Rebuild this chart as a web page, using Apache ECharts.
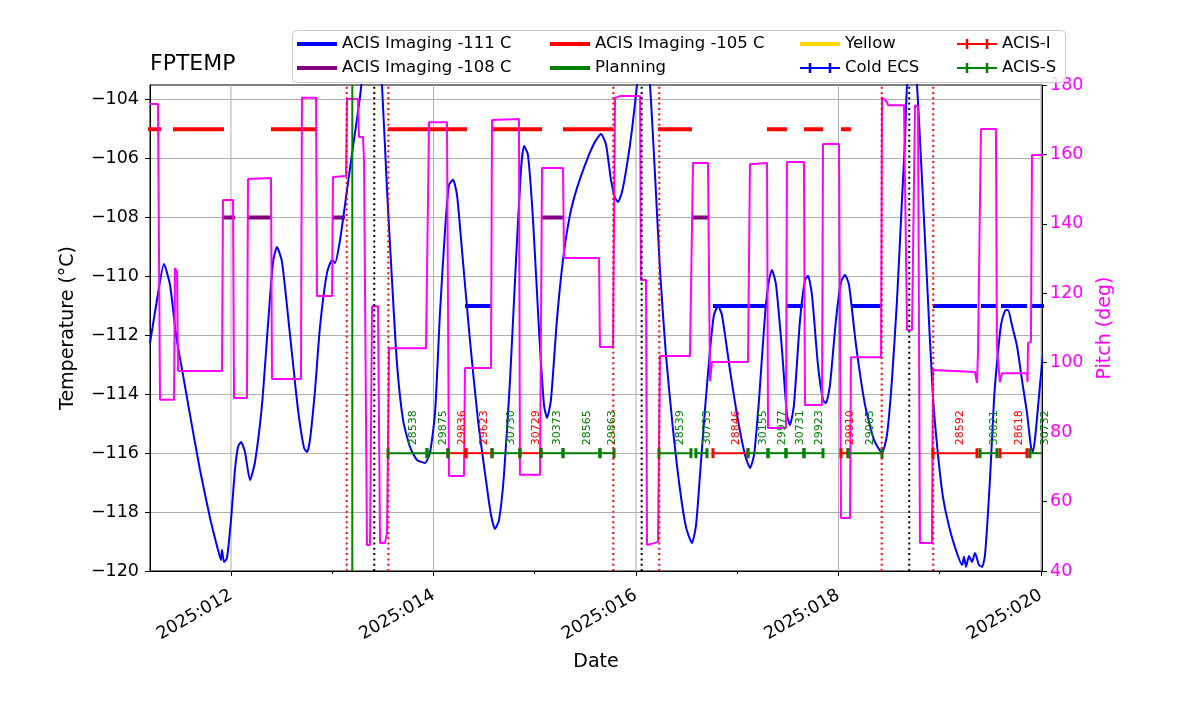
<!DOCTYPE html>
<html><head><meta charset="utf-8">
<script src="https://cdn.jsdelivr.net/npm/echarts@6/dist/echarts.min.js"></script>
<style>html,body{margin:0;padding:0;background:#fff}#c{width:1200px;height:714px}</style>
</head><body><div id="c"></div>
<script>
// ---- axis ticks ----
const xTickDays = [12, 14, 16, 18, 20];
const xMinorDays = [13, 15, 17, 19];
const tempTicks = [-120, -118, -116, -114, -112, -110, -108, -106, -104];

// ---- FPTEMP (day-of-year, deg C) ----
const fptemp = [[11.200,-112.26],[11.269,-110.80],[11.338,-109.58],[11.398,-110.29],[11.457,-111.99],[11.526,-113.34],[11.595,-114.70],[11.694,-116.57],[11.793,-118.20],[11.872,-119.29],[11.901,-119.63],[11.911,-119.29],[11.931,-119.69],[11.960,-119.56],[12.000,-118.27],[12.039,-116.57],[12.069,-115.79],[12.099,-115.62],[12.138,-115.96],[12.188,-116.91],[12.237,-116.30],[12.306,-114.36],[12.365,-111.65],[12.415,-109.51],[12.454,-109.00],[12.504,-109.51],[12.583,-111.99],[12.662,-114.53],[12.721,-115.82],[12.751,-115.96],[12.780,-115.55],[12.830,-113.85],[12.879,-111.71],[12.948,-109.88],[12.998,-109.44],[13.027,-109.54],[13.077,-108.76],[13.146,-107.06],[13.205,-105.60],[13.274,-103.90],[13.334,-102.0],[13.392,-101.0],[13.452,-102.0],[13.491,-103.5],[13.541,-107.06],[13.590,-110.12],[13.639,-112.94],[13.699,-114.87],[13.768,-115.79],[13.837,-116.23],[13.916,-116.33],[13.965,-115.99],[14.015,-114.64],[14.064,-111.24],[14.114,-108.42],[14.153,-106.89],[14.193,-106.72],[14.232,-107.23],[14.281,-109.10],[14.360,-112.16],[14.439,-114.87],[14.518,-116.91],[14.568,-118.10],[14.607,-118.57],[14.647,-118.27],[14.696,-116.74],[14.756,-113.51],[14.815,-109.44],[14.864,-106.38],[14.894,-105.57],[14.933,-105.87],[14.983,-108.08],[15.042,-111.82],[15.091,-114.36],[15.121,-114.80],[15.160,-114.19],[15.219,-111.48],[15.279,-109.44],[15.348,-107.91],[15.417,-107.00],[15.516,-106.04],[15.595,-105.43],[15.654,-105.16],[15.704,-105.53],[15.753,-106.72],[15.793,-107.33],[15.822,-107.47],[15.862,-107.13],[15.911,-106.21],[15.960,-105.03],[16.010,-103.50],[16.049,-102.0],[16.089,-102.0],[16.138,-103.5],[16.188,-106.55],[16.237,-109.78],[16.296,-112.67],[16.366,-115.21],[16.435,-117.25],[16.494,-118.51],[16.553,-119.05],[16.593,-118.44],[16.632,-116.74],[16.681,-114.53],[16.731,-112.50],[16.770,-111.31],[16.810,-111.00],[16.849,-111.31],[16.928,-113.17],[17.007,-114.87],[17.077,-116.06],[17.126,-116.50],[17.166,-116.06],[17.215,-114.19],[17.274,-111.31],[17.314,-110.12],[17.343,-109.78],[17.383,-110.29],[17.442,-112.50],[17.491,-114.70],[17.521,-115.04],[17.560,-114.36],[17.620,-111.48],[17.669,-110.12],[17.699,-109.98],[17.738,-110.63],[17.797,-113.00],[17.847,-114.19],[17.876,-114.30],[17.916,-113.68],[17.975,-111.48],[18.025,-110.19],[18.064,-109.95],[18.104,-110.29],[18.173,-112.33],[18.262,-114.36],[18.351,-115.55],[18.430,-115.99],[18.479,-115.38],[18.528,-113.51],[18.578,-110.80],[18.627,-107.40],[18.657,-105.37],[18.677,-103.5],[18.726,-102.0],[18.775,-103.5],[18.825,-106.72],[18.874,-110.12],[18.933,-114.09],[18.983,-116.06],[19.032,-117.49],[19.101,-118.61],[19.170,-119.39],[19.220,-119.80],[19.240,-119.52],[19.259,-119.86],[19.289,-119.49],[19.319,-119.69],[19.348,-119.39],[19.388,-119.80],[19.418,-119.86],[19.447,-119.46],[19.496,-116.91],[19.536,-114.19],[19.565,-112.94],[19.605,-111.65],[19.644,-111.17],[19.674,-111.14],[19.713,-111.65],[19.763,-112.36],[19.812,-113.51],[19.862,-114.64],[19.901,-115.79],[19.921,-115.96],[19.950,-115.21],[19.990,-113.68],[20.019,-112.67]];

// ---- Pitch (day-of-year, deg) ----
const pitch = [[11.200,174.5],[11.279,174.5],[11.299,89.3],[11.437,89.3],[11.447,127.3],[11.467,126.1],[11.477,97.6],[11.911,97.6],[11.921,146.9],[12.020,146.9],[12.030,89.8],[12.158,89.8],[12.168,152.9],[12.395,153.2],[12.405,95.3],[12.691,95.3],[12.701,176.3],[12.840,176.3],[12.849,119.2],[12.998,119.2],[13.007,153.5],[13.136,153.8],[13.146,176.0],[13.254,176.0],[13.264,165.0],[13.304,165.0],[13.314,157.8],[13.333,157.5],[13.343,47.5],[13.373,47.5],[13.393,116.3],[13.452,116.3],[13.472,48.1],[13.521,48.1],[13.541,50.9],[13.551,51.2],[13.561,104.2],[13.926,104.2],[13.956,169.3],[14.133,169.3],[14.153,67.4],[14.301,67.4],[14.311,98.5],[14.568,98.5],[14.578,169.9],[14.844,170.2],[14.854,67.7],[15.052,67.7],[15.072,156.1],[15.279,156.1],[15.289,130.2],[15.635,130.2],[15.644,104.5],[15.773,104.5],[15.793,176.3],[15.842,176.8],[16.040,176.8],[16.049,123.8],[16.099,123.8],[16.109,47.5],[16.188,48.1],[16.217,48.4],[16.237,101.9],[16.533,101.9],[16.563,157.5],[16.711,157.5],[16.731,94.7],[16.751,100.2],[17.106,100.2],[17.126,157.2],[17.294,157.5],[17.304,81.2],[17.481,81.2],[17.491,157.8],[17.659,157.8],[17.669,87.8],[17.837,87.8],[17.847,163.0],[18.005,163.0],[18.025,55.3],[18.114,55.3],[18.123,101.6],[18.420,101.6],[18.430,176.5],[18.479,175.1],[18.489,174.2],[18.647,174.2],[18.677,109.4],[18.726,109.4],[18.756,174.2],[18.785,173.7],[18.805,48.1],[18.923,48.1],[18.933,97.9],[19.348,97.3],[19.368,94.2],[19.378,103.1],[19.407,167.3],[19.555,167.3],[19.565,104.2],[19.595,94.4],[19.615,97.0],[19.862,97.0],[19.867,94.4],[19.872,105.7],[19.901,106.0],[19.911,159.8],[20.030,159.8]];

// ---- ACIS imaging temperature limit spans [start, end] ----
const imaging111Level = -111, imaging108Level = -108, imaging105Level = -105;
const imaging111Spans = [[14.311,14.578],[16.760,17.274],[17.491,17.649],[18.133,18.420],[18.933,19.368],[19.407,19.565],[19.605,19.862],[19.901,20.05]];
const imaging108Spans = [[11.921,12.040],[12.168,12.405],[12.998,13.126],[15.062,15.289],[16.553,16.721]];
const imaging105Spans = [[11.15,11.309],[11.427,11.931],[12.395,12.849],[13.551,14.331],[14.578,15.072],[15.279,15.773],[16.217,16.553],[17.294,17.491],[17.659,17.847],[18.025,18.123]];

// ---- vertical event lines ----
const planningTimes = [13.198];
const redDotTimes = [13.143, 13.554, 15.776, 16.230, 18.427, 18.936];
const blackDotTimes = [13.415, 16.056, 18.699];

// ---- observations [start, end, obsid] ----
const obsidLevel = -116;
const acisIObs = [[14.143,14.321,29836],[14.321,14.578,29623],[14.854,15.062,30729],[16.760,17.106,28846],[18.025,18.094,29910],[18.933,19.368,28592],[19.595,19.862,28618]];
const acisSObs = [[13.551,13.936,28538],[13.936,14.143,29875],[14.578,14.854,30730],[15.062,15.279,30373],[15.279,15.644,28565],[15.644,15.783,29863],[16.227,16.543,28539],[16.592,16.701,30733],[17.106,17.304,30155],[17.304,17.481,29977],[17.481,17.659,30731],[17.659,17.847,29923],[18.094,18.430,29065],[19.398,19.565,30021],[19.891,20.089,30732]];

const X_MIN = 11.2, X_MAX = 20.01, T_MIN = -120, T_MAX = -103.5;
const FONT = 'DejaVu Sans';

function spansData(spans, level) {
  const d = [];
  spans.forEach(([s, e]) => { d.push([s, level], [e, level], [e, '-']); });
  return d;
}
function vlineData(times) {
  const d = [];
  times.forEach(t => { d.push([t, T_MIN], [t, T_MAX], [t, '-']); });
  return d;
}
function obsData(list) { return list.map(o => [o[0], o[1], o[2], obsidLevel]); }

function renderObs(params, api) {
  const s = api.value(0), e = api.value(1), id = api.value(2), lv = api.value(3);
  const p1 = api.coord([s, lv]), p2 = api.coord([e, lv]);
  const cs = params.coordSys;
  const xmin = cs.x, xmax = cs.x + cs.width;
  const color = api.visual('color');
  const ch = [];
  const x1 = Math.max(p1[0], xmin), x2 = Math.min(p2[0], xmax);
  if (x2 > x1) ch.push({type: 'line', shape: {x1: x1, y1: p1[1], x2: x2, y2: p1[1]}, style: {stroke: color, lineWidth: 2}});
  [p1[0], p2[0]].forEach(x => {
    if (x >= xmin - 0.5 && x <= xmax + 0.5) ch.push({type: 'rect', shape: {x: x - 1.5, y: p1[1] - 5, width: 3, height: 10}, style: {fill: color}});
  });
  const cx = (p1[0] + p2[0]) / 2;
  ch.push({type: 'text', x: cx, y: p1[1] - 8, rotation: Math.PI / 2,
    style: {text: String(id), fill: color, fontSize: 11, fontFamily: FONT, align: 'left', verticalAlign: 'top'}});
  return {type: 'group', children: ch};
}

const ebIcon = 'path://M0,4h40v2h-40zM8.75,0h2.5v10h-2.5zM28.75,0h2.5v10h-2.5z';
const legendBase = {orient: 'vertical', top: 34, itemWidth: 40, itemHeight: 4, itemGap: 4, itemTextGap: 9,
  padding: 0, selectedMode: false, icon: 'rect', z: 20,
  textStyle: {fontSize: 16.5, lineHeight: 20, color: '#000', fontFamily: FONT}};

const chart = echarts.init(document.getElementById('c'), null, {renderer: 'canvas'});
chart.setOption({
  animation: false,
  backgroundColor: '#fff',
  textStyle: {fontFamily: FONT},
  title: {text: 'FPTEMP', left: 150, top: 53, padding: 0,
    textStyle: {fontSize: 22, fontWeight: 'normal', color: '#000', fontFamily: FONT}},
  graphic: [{type: 'rect', left: 292, top: 30, z: 10,
    shape: {width: 773, height: 52, r: 4},
    style: {fill: 'rgba(255,255,255,0.8)', stroke: '#cccccc', lineWidth: 1}}],
  legend: [
    Object.assign({}, legendBase, {left: 297, data: ['ACIS Imaging -111 C', 'ACIS Imaging -108 C']}),
    Object.assign({}, legendBase, {left: 550, data: ['ACIS Imaging -105 C', 'Planning']}),
    Object.assign({}, legendBase, {left: 800, data: ['Yellow']}),
    Object.assign({}, legendBase, {left: 800, top: 58, itemHeight: 10, icon: ebIcon, data: ['Cold ECS']}),
    Object.assign({}, legendBase, {left: 957, itemHeight: 10, icon: ebIcon, data: ['ACIS-I', 'ACIS-S']})
  ],
  grid: {left: 150, right: 158, top: 85, bottom: 143, show: true, borderColor: '#000', borderWidth: 1, backgroundColor: 'transparent'},
  xAxis: [{
    type: 'value', min: X_MIN, max: X_MAX, position: 'bottom',
    axisLine: {show: true, onZero: false, lineStyle: {color: '#000', width: 1}},
    axisTick: {show: true, length: 5, customValues: xTickDays, lineStyle: {color: '#000'}},
    axisLabel: {customValues: xTickDays, rotate: 30, margin: 23, fontSize: 17.5, color: '#000',
      formatter: v => '2025:' + String(Math.round(v)).padStart(3, '0')},
    splitLine: {show: false},
    name: 'Date', nameLocation: 'middle', nameGap: 82, nameTextStyle: {fontSize: 19, color: '#000'}
  }, {
    type: 'value', min: X_MIN, max: X_MAX, position: 'bottom',
    axisLine: {show: false, onZero: false},
    axisTick: {show: true, length: 3, customValues: xMinorDays, lineStyle: {color: '#000'}},
    axisLabel: {show: false}, splitLine: {show: false}
  }],
  yAxis: [{
    type: 'value', min: T_MIN, max: T_MAX, interval: 2, position: 'left',
    axisLine: {show: true, onZero: false, lineStyle: {color: '#000'}},
    axisTick: {show: true, length: 5, customValues: tempTicks, lineStyle: {color: '#000'}},
    axisLabel: {customValues: tempTicks, fontSize: 17.5, color: '#000', margin: 11,
      formatter: v => (Math.abs(v % 2) < 1e-9 ? (v < 0 ? '\u2212' + Math.abs(v) : String(v)) : '')},
    splitLine: {show: true, lineStyle: {color: '#b0b0b0', width: 1}},
    name: 'Temperature (°C)', nameLocation: 'middle', nameGap: 72, nameRotate: 90,
    nameTextStyle: {fontSize: 19, color: '#000'}
  }, {
    type: 'value', min: 40, max: 180, interval: 20, position: 'right', alignTicks: false,
    axisLine: {show: true, onZero: false, lineStyle: {color: '#000'}},
    axisTick: {show: true, length: 5, lineStyle: {color: '#000'}},
    axisLabel: {fontSize: 17.5, color: '#ff00ff', margin: 8},
    splitLine: {show: false},
    name: 'Pitch (deg)', nameLocation: 'middle', nameGap: 54, nameRotate: 90,
    nameTextStyle: {fontSize: 19, color: '#ff00ff'}
  }],
  series: [
    {name: 'xgrid', type: 'line', data: vlineData(xTickDays), showSymbol: false, silent: true, z: 1,
      lineStyle: {color: '#b0b0b0', width: 1}, itemStyle: {color: '#b0b0b0'}},
    {name: 'ACIS Imaging -105 C', type: 'line', data: spansData(imaging105Spans, imaging105Level), showSymbol: false, z: 2,
      lineStyle: {color: '#ff0000', width: 4}, itemStyle: {color: '#ff0000'}},
    {name: 'ACIS Imaging -108 C', type: 'line', data: spansData(imaging108Spans, imaging108Level), showSymbol: false, z: 2,
      lineStyle: {color: '#800080', width: 4}, itemStyle: {color: '#800080'}},
    {name: 'ACIS Imaging -111 C', type: 'line', data: spansData(imaging111Spans, imaging111Level), showSymbol: false, z: 2,
      lineStyle: {color: '#0000ff', width: 4}, itemStyle: {color: '#0000ff'}},
    {name: 'Yellow', type: 'line', data: [], showSymbol: false, z: 2,
      lineStyle: {color: '#ffd700', width: 4}, itemStyle: {color: '#ffd700'}},
    {name: 'FPTEMP', type: 'line', data: fptemp, showSymbol: false, smooth: 0.2, z: 3,
      lineStyle: {color: '#0000ff', width: 2}, itemStyle: {color: '#0000ff'}},
    {name: 'Pitch', type: 'line', yAxisIndex: 1, data: pitch, showSymbol: false, z: 4,
      lineStyle: {color: '#ff00ff', width: 2}, itemStyle: {color: '#ff00ff'}},
    {name: 'ACIS-I', type: 'custom', data: obsData(acisIObs), encode: {x: [0, 1], y: 3}, renderItem: renderObs, z: 5,
      itemStyle: {color: '#ff0000'}},
    {name: 'ACIS-S', type: 'custom', data: obsData(acisSObs), encode: {x: [0, 1], y: 3}, renderItem: renderObs, z: 5,
      itemStyle: {color: '#008000'}},
    {name: 'Cold ECS', type: 'custom', data: [], encode: {x: [0, 1], y: 3}, renderItem: renderObs, z: 5,
      itemStyle: {color: '#0000ff'}},
    {name: 'Planning', type: 'line', data: vlineData(planningTimes), showSymbol: false, z: 6,
      lineStyle: {color: '#008000', width: 2}, itemStyle: {color: '#008000'}},
    {name: 'redDots', type: 'line', data: vlineData(redDotTimes), showSymbol: false, silent: true, z: 6,
      lineStyle: {color: '#ff0000', width: 2, type: [2, 3.3]}, itemStyle: {color: '#ff0000'}},
    {name: 'blackDots', type: 'line', data: vlineData(blackDotTimes), showSymbol: false, silent: true, z: 6,
      lineStyle: {color: '#000000', width: 2, type: [2, 3.3]}, itemStyle: {color: '#000000'}}
  ]
});
</script>
</body></html>
